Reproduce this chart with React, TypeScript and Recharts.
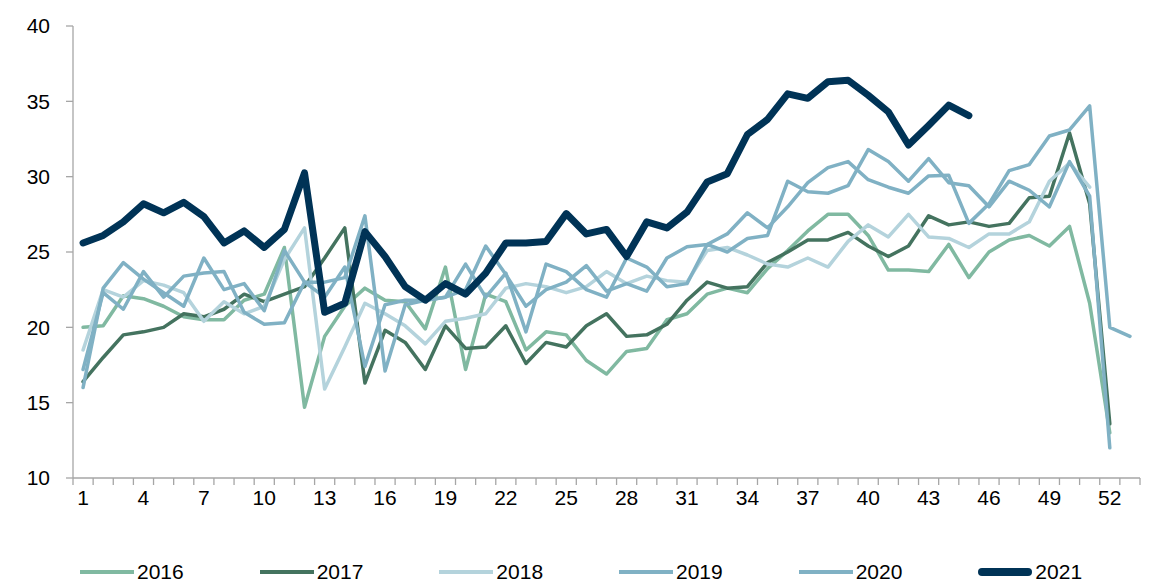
import { Legend, Line, LineChart, XAxis, YAxis } from 'recharts'

const WEEKS = [
  1, 2, 3, 4, 5, 6, 7, 8, 9, 10, 11, 12, 13, 14, 15, 16, 17, 18, 19, 20, 21, 22, 23, 24, 25, 26, 27,
  28, 29, 30, 31, 32, 33, 34, 35, 36, 37, 38, 39, 40, 41, 42, 43, 44, 45, 46, 47, 48, 49, 50, 51, 52, 53,
]
const Y_TICKS = [10, 15, 20, 25, 30, 35, 40]

const S2016 = [20.0, 20.1, 22.1, 21.9, 21.4, 20.7, 20.5, 20.5, 21.8, 22.2, 25.3, 14.7, 19.4, 21.4, 22.6, 21.8, 21.7, 19.9, 24.0, 17.2, 22.2, 21.7, 18.5, 19.7, 19.5, 17.8, 16.9, 18.4, 18.6, 20.5, 20.9, 22.2, 22.6, 22.3, 23.9, 25.1, 26.4, 27.5, 27.5, 26.1, 23.8, 23.8, 23.7, 25.5, 23.3, 25.0, 25.8, 26.1, 25.4, 26.7, 21.6, 13.0]
const S2017 = [16.4, 18.0, 19.5, 19.7, 20.0, 20.9, 20.7, 21.2, 22.2, 21.7, 22.2, 22.7, 24.6, 26.6, 16.3, 19.8, 19.0, 17.2, 20.1, 18.6, 18.7, 20.1, 17.6, 19.0, 18.7, 20.1, 20.9, 19.4, 19.5, 20.2, 21.8, 23.0, 22.6, 22.7, 24.3, 25.0, 25.8, 25.8, 26.3, 25.4, 24.7, 25.4, 27.4, 26.8, 27.0, 26.7, 26.9, 28.6, 28.7, 32.9, 28.2, 13.6]
const S2018 = [18.5, 22.5, 22.0, 23.1, 22.8, 22.3, 20.4, 21.7, 20.9, 21.4, 24.5, 26.6, 15.9, 18.7, 21.6, 20.9, 20.1, 18.9, 20.4, 20.6, 20.9, 22.6, 22.9, 22.7, 22.3, 22.7, 23.7, 22.9, 23.4, 23.1, 23.0, 25.1, 25.3, 24.8, 24.2, 24.0, 24.6, 24.0, 25.7, 26.8, 26.0, 27.5, 26.0, 25.9, 25.3, 26.2, 26.2, 27.0, 29.7, 30.9, 29.3]
const S2019 = [16.0, 22.6, 24.3, 23.2, 22.3, 21.4, 24.6, 22.5, 22.9, 21.1, 25.1, 23.0, 22.0, 24.0, 17.4, 21.5, 21.8, 21.8, 22.0, 24.2, 22.0, 23.6, 19.7, 24.2, 23.7, 22.5, 22.0, 24.6, 24.0, 22.7, 22.9, 25.5, 25.0, 25.9, 26.1, 29.7, 29.0, 28.9, 29.4, 31.8, 31.0, 29.7, 31.2, 29.6, 29.4, 28.0, 29.7, 29.1, 28.0, 31.0, 28.7, 12.0]
const S2020 = [17.2, 22.3, 21.2, 23.7, 22.0, 23.4, 23.6, 23.7, 21.0, 20.2, 20.3, 23.0, 23.0, 23.3, 27.4, 17.1, 21.5, 21.8, 22.0, 22.5, 25.4, 23.5, 21.4, 22.5, 23.0, 24.1, 22.4, 22.9, 22.4, 24.6, 25.35, 25.5, 26.2, 27.6, 26.6, 28.0, 29.6, 30.6, 31.0, 29.8, 29.3, 28.9, 30.05, 30.1, 26.9, 28.2, 30.4, 30.8, 32.7, 33.1, 34.7, 20.0, 19.4]
const S2021 = [25.6, 26.1, 27.0, 28.2, 27.6, 28.3, 27.35, 25.6, 26.4, 25.3, 26.5, 30.25, 21.0, 21.6, 26.35, 24.7, 22.7, 21.8, 22.9, 22.2, 23.6, 25.6, 25.6, 25.7, 27.55, 26.2, 26.5, 24.7, 27.0, 26.6, 27.65, 29.65, 30.2, 32.8, 33.8, 35.5, 35.2, 36.3, 36.4, 35.4, 34.3, 32.1, 33.4, 34.75, 34.05]

const SERIES = [
  { key: '2016', values: S2016, color: '#80B9A1', width: 3.5 },
  { key: '2017', values: S2017, color: '#44735F', width: 3.5 },
  { key: '2018', values: S2018, color: '#B4D3DC', width: 3.5 },
  { key: '2019', values: S2019, color: '#80B1C4', width: 3.5 },
  { key: '2020', values: S2020, color: '#80B1C4', width: 3.5 },
  { key: '2021', values: S2021, color: '#003356', width: 7 },
]

const data = WEEKS.map((w, i) => {
  const row: Record<string, number | string | null> = { week: String(w) }
  SERIES.forEach((s) => { row[s.key] = s.values[i] ?? null })
  return row
})

const W = 1158
const H = 585
const M = { top: 26, right: 18, bottom: 67, left: 0 }
const Y_W = 73
const PLOT_W = W - M.left - M.right - Y_W
const BAND = PLOT_W / WEEKS.length
const FONT = '"Liberation Sans", Arial, sans-serif'
const AXIS = '#A6A6A6'

function WeekTick(props: any) {
  const { x, y, payload, index, visibleTicksCount } = props
  const half = BAND / 2
  return (
    <g>
      <line x1={x - half} x2={x - half} y1={y} y2={y + 7} stroke={AXIS} strokeWidth={1.3} />
      {index === visibleTicksCount - 1 && (
        <line x1={x + half} x2={x + half} y1={y} y2={y + 7} stroke={AXIS} strokeWidth={1.3} />
      )}
      {index % 3 === 0 && (
        <text x={x} y={y + 12} dy="0.71em" textAnchor="middle" fontSize={21} fill="#000" fontFamily={FONT}>
          {payload.value}
        </text>
      )}
    </g>
  )
}

function LegendContent() {
  return (
    <div style={{ display: 'flex', paddingLeft: 80, fontFamily: FONT, fontSize: 21, color: '#000' }}>
      {SERIES.map((s) => (
        <div key={s.key} style={{ width: 183, display: 'flex', alignItems: 'center' }}>
          <svg width={54} height={12} style={{ display: 'block' }}>
            <line x1={s.width > 4 ? 4 : 0} x2={s.width > 4 ? 50 : 54} y1={6} y2={6} stroke={s.color}
              strokeWidth={s.width > 4 ? 8 : 4} strokeLinecap={s.width > 4 ? 'round' : 'butt'} />
          </svg>
          <span style={{ marginLeft: 3, lineHeight: '24px' }}>{s.key}</span>
        </div>
      ))}
    </div>
  )
}

export default function App() {
  return (
    <div style={{ position: 'absolute', left: 0, top: 0, width: W, height: H, background: '#fff' }}>
      <LineChart width={W} height={H} data={data} margin={M}>
        <XAxis
          dataKey="week"
          interval={0}
          tick={<WeekTick />}
          tickLine={false}
          tickSize={0}
          tickMargin={0}
          height={40}
          padding={{ left: BAND / 2, right: BAND / 2 }}
          axisLine={{ stroke: AXIS, strokeWidth: 1.3 }}
        />
        <YAxis
          domain={[10, 40]}
          ticks={Y_TICKS}
          width={Y_W}
          tickSize={7}
          tickMargin={16}
          axisLine={{ stroke: AXIS, strokeWidth: 1.3 }}
          tickLine={{ stroke: AXIS, strokeWidth: 1.3 }}
          tick={{ fontSize: 21, fill: '#000', fontFamily: FONT }}
        />
        <Legend
          verticalAlign="middle"
          align="center"
          layout="horizontal"
          wrapperStyle={{ top: 560, left: 0, width: W }}
          content={<LegendContent />}
        />
        {SERIES.map((s) => (
          <Line
            key={s.key}
            dataKey={s.key}
            stroke={s.color}
            strokeWidth={s.width}
            dot={false}
            activeDot={false}
            strokeLinejoin="round"
            strokeLinecap="round"
            connectNulls={false}
            isAnimationActive={false}
          />
        ))}
      </LineChart>
    </div>
  )
}
